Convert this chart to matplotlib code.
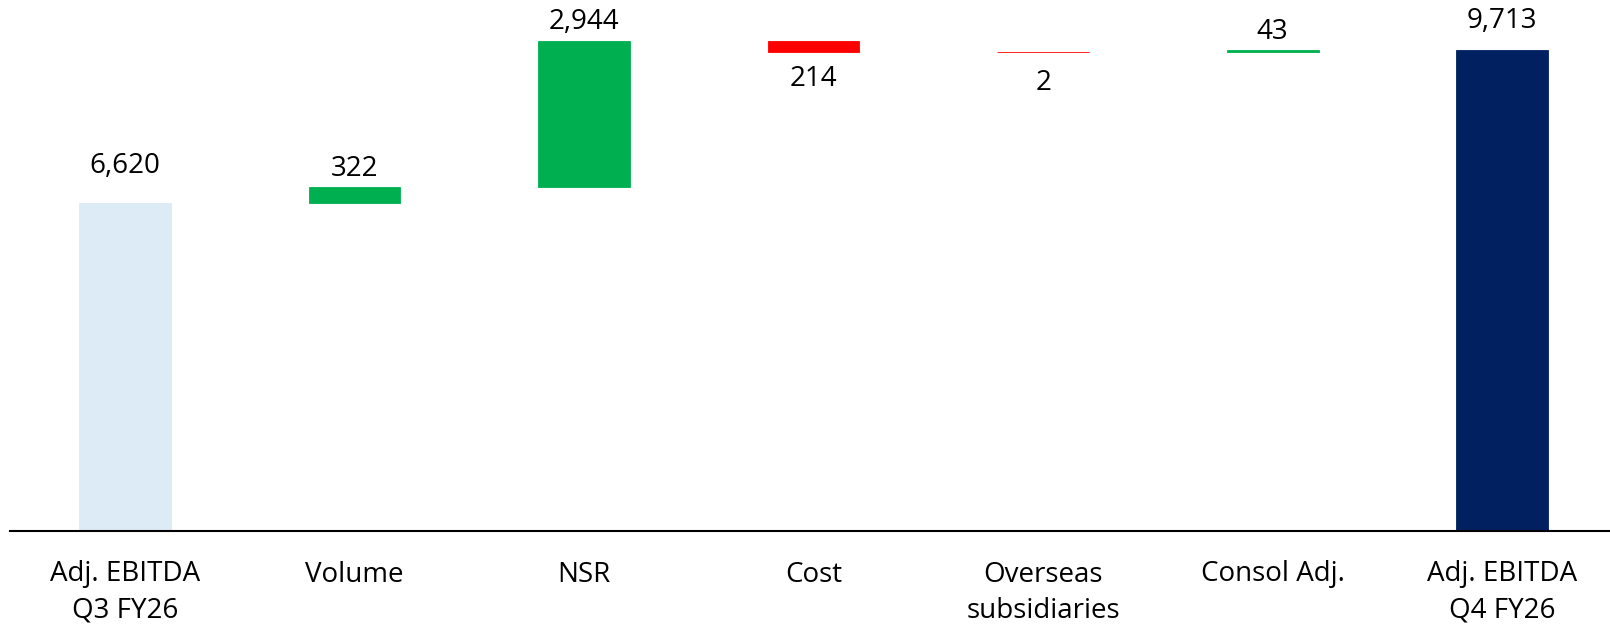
import matplotlib
matplotlib.use("Agg")
import matplotlib.pyplot as plt
import numpy as np

plt.rcParams["font.family"] = ["Open Sans", "DejaVu Sans"]

# EBITDA bridge, Q3 FY26 -> Q4 FY26
categories = ["Adj. EBITDA\nQ3 FY26", "Volume", "NSR", "Cost",
              "Overseas\nsubsidiaries", "Consol Adj.", "Adj. EBITDA\nQ4 FY26"]
opening_total = 6620
changes = [322, 2944, -214, -2, 43]
closing_total = 9713

# Colours
c_open = "#DDEBF7"
c_close = "#002060"
c_up = "#00B050"
c_down = "#FF0000"

# vertical distance (points) between bar end and the label baseline
label_offsets = [21.2, 7.9, 8.4, -24.7, -27.6, 7.9, 15.7]

# build the floating segments
bottoms = [0]
heights = [opening_total]
colors = [c_open]
running = opening_total
for d in changes:
    bottoms.append(running if d >= 0 else running + d)
    heights.append(abs(d))
    colors.append(c_up if d >= 0 else c_down)
    running += d
bottoms.append(0)
heights.append(closing_total)
colors.append(c_close)

signed = [opening_total] + changes + [closing_total]

fig = plt.figure(figsize=(16.10, 6.26), dpi=100)
ax = fig.add_axes([10.3 / 1610, 95.5 / 626, 1 - 10.3 / 1610, 530.5 / 626])

x = np.arange(len(categories))
ax.bar(x, heights, bottom=bottoms, width=0.4, color=colors,
       edgecolor=colors, linewidth=0.6)

for i, (b, h, v) in enumerate(zip(bottoms, heights, signed)):
    anchor = b if v < 0 else b + h
    ax.annotate(f"{abs(v):,}", xy=(x[i], anchor),
                xytext=(0, label_offsets[i]), textcoords="offset points",
                ha="center", va="baseline", fontsize=20, color="#000000")

ax.set_xlim(-0.5, 6.47)
ax.set_ylim(0, 10713)

ax.set_xticks(x)
ax.set_xticklabels(categories, fontsize=20, linespacing=1.4)
ax.tick_params(axis="x", length=0, pad=21.6)
ax.set_yticks([])

for side in ("top", "right", "left"):
    ax.spines[side].set_visible(False)
ax.spines["bottom"].set_color("#000000")
ax.spines["bottom"].set_linewidth(1.5)
ax.spines["bottom"].set_zorder(3)

fig.savefig("out.png", dpi=100)
